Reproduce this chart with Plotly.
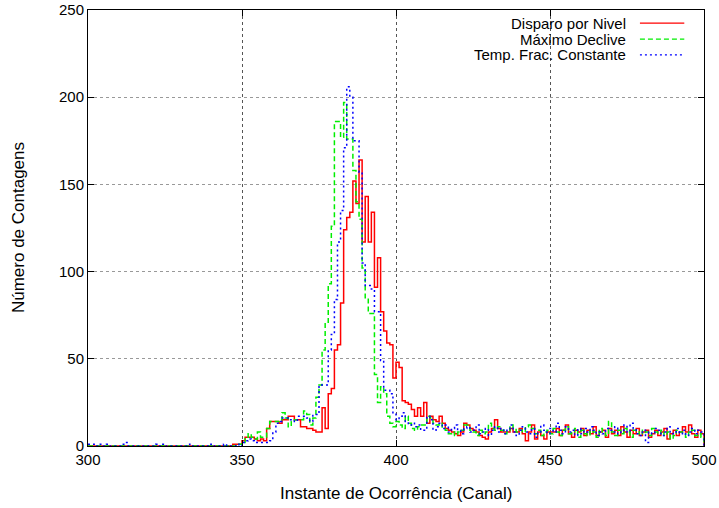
import plotly.graph_objects as go

channels = list(range(300, 501))

red_counts = [
    0,0,0,0,0,0,0,0,0,0,
    0,0,0,0,0,0,0,0,0,0,
    0,0,0,0,0,0,0,0,0,0,
    0,0,0,0,0,0,0,0,0,0,
    0,0,0,0,0,0,0,1,1,1,
    3,5,5,5,4,3,4,3,10,14,
    14,14,13,15,15,17,17,15,15,11,
    11,10,10,9,8,8,22,10,30,33,
    55,58,82,124,131,134,152,139,164,117,
    143,117,134,91,108,77,66,59,58,39,
    48,45,26,25,24,21,17,22,17,25,
    13,17,15,14,17,13,10,9,8,7,
    6,8,13,12,10,9,8,6,5,4,
    8,10,15,10,8,8,8,10,8,8,
    10,7,3,8,12,4,8,6,4,8,
    8,8,10,6,9,12,7,5,9,8,
    10,6,9,7,11,6,8,9,5,10,
    7,9,6,11,8,5,9,7,10,6,
    8,9,5,7,9,6,8,10,4,7,
    9,6,8,11,8,12,7,5,9,7,
    0,
]

green_counts = [
    0,0,0,0,0,0,0,0,0,0,
    0,0,0,0,0,0,0,0,0,0,
    0,0,0,0,0,0,0,0,0,0,
    0,0,0,0,0,0,0,0,0,0,
    0,0,0,0,0,0,0,0,1,1,
    2,5,7,5,4,8,5,5,10,14,
    14,14,15,19,16,11,14,15,15,15,
    20,18,12,16,28,35,55,71,93,126,
    186,186,177,197,176,176,158,140,130,102,
    85,76,76,41,25,34,30,17,13,11,
    14,12,10,17,13,10,9,11,12,12,
    17,16,13,12,13,10,9,7,8,6,
    8,9,12,12,9,8,6,9,7,8,
    13,10,9,11,9,7,8,12,10,8,
    9,8,11,12,10,7,9,6,8,9,
    7,10,8,6,9,11,7,8,10,5,
    9,7,6,9,8,5,10,8,6,14,
    8,6,9,7,10,8,5,9,7,9,
    7,8,6,10,8,7,9,6,8,4,
    6,9,8,7,5,8,9,6,7,5,
    0,
]

blue_counts = [
    1,1,0,0,1,0,1,0,0,0,
    0,1,2,0,0,0,0,0,0,0,
    0,0,1,0,1,0,0,0,0,0,
    0,0,0,1,0,0,0,0,0,1,
    0,0,0,0,1,0,0,0,1,0,
    2,3,4,3,2,2,2,2,2,3,
    8,13,14,16,16,15,15,14,17,17,
    17,16,14,18,18,35,35,35,55,64,
    84,117,135,171,206,200,175,175,157,105,
    92,92,90,77,77,49,32,32,30,19,
    15,17,19,14,12,13,11,12,9,9,
    17,15,9,11,13,10,12,8,10,12,
    9,7,10,11,8,9,12,7,8,10,
    6,9,11,8,10,7,9,12,8,6,
    9,11,8,7,10,5,8,12,9,7,
    10,8,13,9,7,11,8,9,6,10,
    7,10,8,11,9,6,8,7,10,9,
    8,11,7,9,12,8,13,10,7,6,
    9,2,8,7,10,9,6,8,11,7,
    8,10,7,9,6,8,10,7,9,8,
    0,
]

series_names = ["Disparo por Nivel", "Máximo Declive", "Temp. Frac. Constante"]
series_colors = ["#ff0000", "#00ee00", "#0000ff"]
series_dash = ["solid", "5px,3px", "2px,3px"]
series_data = [red_counts, green_counts, blue_counts]

x_ticks = [300, 350, 400, 450, 500]
y_ticks = [0, 50, 100, 150, 200, 250]
x_title = "Instante de Ocorrência (Canal)"
y_title = "Número de Contagens"

FONT = "Liberation Sans, Arial, Helvetica, sans-serif"
FS = 15
FS_TITLE = 17

fig = go.Figure()
for name, col, dash, vals in zip(series_names, series_colors, series_dash, series_data):
    fig.add_trace(go.Scatter(
        x=channels, y=vals, mode="lines", name=name,
        line=dict(color=col, width=1.5, dash=dash, shape="hv"),
        showlegend=False,
    ))

# gnuplot-style legend: right-aligned text, line sample on the right
legend_y = [0.970, 0.933, 0.897]
for name, col, dash, ly in zip(series_names, series_colors, series_dash, legend_y):
    fig.add_annotation(xref="paper", yref="paper", x=0.877, y=ly, text=name,
                       showarrow=False, xanchor="right", yanchor="middle",
                       font=dict(family=FONT, size=FS, color="black"))
    fig.add_shape(type="line", xref="paper", yref="paper", x0=0.896, x1=0.968,
                  y0=ly, y1=ly, line=dict(color=col, width=1.2, dash=dash))

# axis titles placed like gnuplot's
fig.add_annotation(xref="paper", yref="paper", x=0.5, y=-0.110, text=x_title,
                   showarrow=False, xanchor="center", yanchor="middle",
                   font=dict(family=FONT, size=FS_TITLE, color="black"))
fig.add_annotation(xref="paper", yref="paper", x=-0.1136, y=0.5, text=y_title,
                   showarrow=False, xanchor="center", yanchor="middle", textangle=-90,
                   font=dict(family=FONT, size=FS_TITLE, color="black"))

fig.update_layout(
    width=719, height=508,
    margin=dict(l=88, r=15, t=10, b=62),
    plot_bgcolor="white", paper_bgcolor="white",
    font=dict(family=FONT, size=FS, color="black"),
)
fig.update_xaxes(
    range=[300, 500], tickvals=x_ticks, ticks="inside", ticklen=6, tickcolor="black",
    showline=True, linecolor="black", linewidth=1, mirror="allticks",
    showgrid=True, gridcolor="#555555", griddash="dot", gridwidth=1,
    zeroline=False, automargin=False,
)
fig.update_yaxes(
    range=[0, 250], tickvals=y_ticks, ticks="inside", ticklen=6, tickcolor="black",
    showline=True, linecolor="black", linewidth=1, mirror="allticks",
    showgrid=True, gridcolor="#999999", griddash="dot", gridwidth=1,
    zeroline=False, automargin=False,
)

fig.write_html("out.html")
